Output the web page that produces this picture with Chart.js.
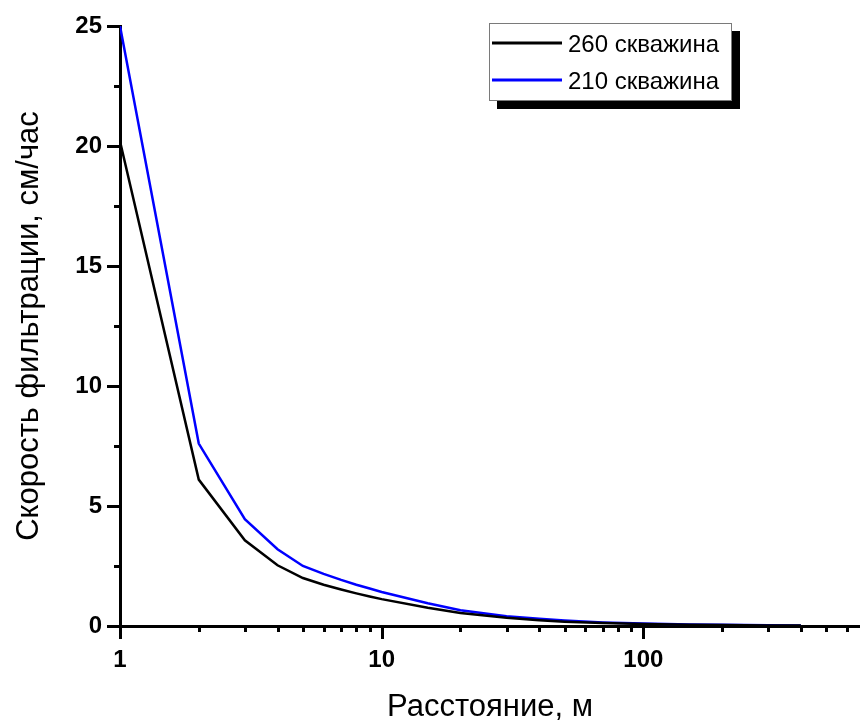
<!DOCTYPE html>
<html>
<head>
<meta charset="utf-8">
<script src="https://cdn.jsdelivr.net/npm/chart.js@4.4.1/dist/chart.umd.min.js"></script>
<style>
    html, body { margin: 0; padding: 0; background: #ffffff; overflow: hidden; }
    #wrap { width: 860px; height: 724px; }
</style>
</head>
<body>
<div id="wrap"><canvas id="filtration" width="860" height="724"></canvas></div>
<script>
// distance from the well, m
var distance = [1, 2, 3, 4, 5, 6, 7, 8, 9, 10, 15, 20, 30, 40, 50, 70, 100, 150, 200, 300, 400];
// filtration speed, cm/h
var well260 = [20.2, 6.1, 3.57, 2.53, 2.0, 1.72, 1.52, 1.36, 1.23, 1.12, 0.76, 0.54, 0.34, 0.24, 0.18, 0.12, 0.08, 0.05, 0.04, 0.025, 0.02];
var well210 = [25, 7.6, 4.45, 3.2, 2.5, 2.17, 1.92, 1.72, 1.56, 1.42, 0.95, 0.66, 0.41, 0.3, 0.23, 0.15, 0.1, 0.065, 0.05, 0.032, 0.025];

var seriesLabels = ["260 скважина", "210 скважина"];
var seriesColors = ["#000000", "#0000ff"];

var xTicks = [1, 2, 3, 4, 5, 6, 7, 8, 9, 10, 20, 30, 40, 50, 60, 70, 80, 90, 100, 200, 300, 400, 500, 600];
var xMajor = [1, 10, 100];
var yTicks = [0, 2.5, 5, 7.5, 10, 12.5, 15, 17.5, 20, 22.5, 25];
var yMajor = [0, 5, 10, 15, 20, 25];

var FONT = "'Liberation Sans', Arial, sans-serif";

var toPoints = function( xs, ys ){
    var pts = [];
    for (var i = 0; i < xs.length; i++){
        pts.push({ x: xs[i], y: ys[i] });
    }
    return pts;
};

// short/long tick marks, drawn off the axes' own tick lists
var tickMarks = {
    id: "tickMarks",
    afterDraw: function( chart ){
        var ctx = chart.ctx;
        var xs = chart.scales.x, ys = chart.scales.y;
        var area = chart.chartArea;
        ctx.save();
        ctx.strokeStyle = "#000000";
        ctx.lineWidth = 3;
        ctx.lineCap = "butt";
        xs.ticks.forEach(function( t ){
            var px = Math.round(xs.getPixelForValue(t.value)) + 0.5;
            var len = xMajor.indexOf(t.value) >= 0 ? 13 : 6;
            ctx.beginPath();
            ctx.moveTo(px, area.bottom);
            ctx.lineTo(px, area.bottom + len);
            ctx.stroke();
        });
        ys.ticks.forEach(function( t ){
            var py = Math.round(ys.getPixelForValue(t.value)) + 0.5;
            var len = yMajor.indexOf(t.value) >= 0 ? 13 : 6;
            ctx.beginPath();
            ctx.moveTo(area.left, py);
            ctx.lineTo(area.left - len, py);
            ctx.stroke();
        });
        ctx.restore();
    }
};

// boxed legend with a drop shadow
var shadowLegend = {
    id: "shadowLegend",
    afterDraw: function( chart ){
        var ctx = chart.ctx;
        var bx = 489, by = 23, bw = 243, bh = 78;
        ctx.save();
        ctx.fillStyle = "#000000";
        ctx.fillRect(bx + 8, by + 8, bw, bh);
        ctx.fillStyle = "#ffffff";
        ctx.fillRect(bx, by, bw, bh);
        ctx.strokeStyle = "#7a7a7a";
        ctx.lineWidth = 1;
        ctx.strokeRect(bx + 0.5, by + 0.5, bw - 1, bh - 1);
        ctx.font = "24px " + FONT;
        ctx.textBaseline = "middle";
        chart.data.datasets.forEach(function( ds, i ){
            var ly = by + 20 + i * 37;
            ctx.strokeStyle = ds.borderColor;
            ctx.lineWidth = 3;
            ctx.beginPath();
            ctx.moveTo(bx + 3, ly);
            ctx.lineTo(bx + 73, ly);
            ctx.stroke();
            ctx.fillStyle = "#000000";
            ctx.fillText(ds.label, bx + 79, ly + 2);
        });
        ctx.restore();
    }
};

var ctx = document.getElementById("filtration").getContext("2d");
var chart = new Chart(ctx, {
    type: "line",
    data: {
        datasets: [
            {
                label: seriesLabels[0],
                data: toPoints(distance, well260),
                borderColor: seriesColors[0],
                borderWidth: 2.5,
                pointRadius: 0,
                fill: false,
                tension: 0
            },
            {
                label: seriesLabels[1],
                data: toPoints(distance, well210),
                borderColor: seriesColors[1],
                borderWidth: 2.5,
                pointRadius: 0,
                fill: false,
                tension: 0
            }
        ]
    },
    options: {
        responsive: false,
        animation: false,
        devicePixelRatio: 1,
        layout: { padding: { top: 26, right: 0, bottom: 0, left: 0 } },
        plugins: {
            legend: { display: false },
            tooltip: { enabled: false }
        },
        scales: {
            x: {
                type: "logarithmic",
                min: 1,
                max: 673,
                afterBuildTicks: function( scale ){
                    scale.ticks = xTicks.map(function( v ){ return { value: v }; });
                },
                afterFit: function( scale ){
                    scale.height = 98;
                    // the axis runs right up to the canvas edge
                    scale.paddingLeft = 0;
                    scale.paddingRight = 0;
                },
                grid: { display: true, drawOnChartArea: false, drawTicks: false },
                border: { display: true, color: "#000000", width: 3 },
                ticks: {
                    autoSkip: false,
                    maxRotation: 0,
                    padding: 20,
                    color: "#000000",
                    font: { family: FONT, size: 24, weight: "bold" },
                    callback: function( value ){
                        return xMajor.indexOf(value) >= 0 ? String(value) : "";
                    }
                },
                title: {
                    display: true,
                    text: "Расстояние, м",
                    color: "#000000",
                    font: { family: FONT, size: 31, lineHeight: 1.0 },
                    padding: { top: 0, bottom: 1 }
                }
            },
            y: {
                min: 0,
                max: 25,
                afterBuildTicks: function( scale ){
                    scale.ticks = yTicks.map(function( v ){ return { value: v }; });
                },
                afterFit: function( scale ){
                    scale.width = 120;
                    scale.paddingTop = 0;
                    scale.paddingBottom = 0;
                },
                grid: { display: true, drawOnChartArea: false, drawTicks: false },
                border: { display: true, color: "#000000", width: 3 },
                ticks: {
                    autoSkip: false,
                    padding: 18,
                    color: "#000000",
                    font: { family: FONT, size: 24, weight: "bold" },
                    callback: function( value ){
                        return yMajor.indexOf(value) >= 0 ? String(value) : "";
                    }
                },
                title: {
                    display: true,
                    text: "Скорость фильтрации, см/час",
                    color: "#000000",
                    font: { family: FONT, size: 31, lineHeight: 1.0 },
                    padding: { top: 14, bottom: 0 }
                }
            }
        }
    },
    plugins: [tickMarks, shadowLegend]
});
</script>
</body>
</html>
